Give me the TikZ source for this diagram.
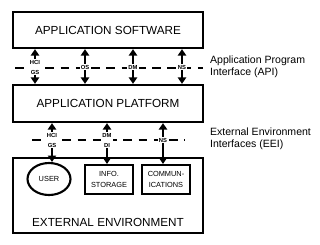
\documentclass[tikz,border=0pt]{standalone}
\usepackage{fontspec}
\setmainfont{Liberation Sans}
\usetikzlibrary{arrows.meta,shapes.geometric,positioning}

\begin{document}
\begin{tikzpicture}[x=0.03cm,y=-0.03cm,
  layer/.style={draw,line width=1.9pt,minimum width=5.7cm,font=\fontsize{10}{12}\selectfont},
  inner/.style={draw,line width=1.8pt,minimum width=1.44cm,minimum height=0.87cm,align=center,font=\fontsize{6.3}{9.3}\selectfont},
  iface/.style={fill=white,inner sep=1pt,align=center,font=\fontsize{5}{8.5}\selectfont\bfseries},
  note/.style={anchor=west,align=left,font=\fontsize{9}{10.5}\selectfont},
  divider/.style={line width=1.7pt,dash pattern=on 7.5pt off 5.5pt},
  arrowto/.style={line width=1.8pt,-{Triangle[width=7pt,length=5.5pt]}}]
\useasboundingbox (0,0) rectangle (320,244);
% layers
\node[layer,minimum height=1.08cm] (sw) at (108,30) {APPLICATION SOFTWARE};
\node[layer,minimum height=1.11cm] (ap) at (108,103.5) {APPLICATION PLATFORM};
\node[layer,minimum height=2.25cm] (ee) at (108,195.5) {};
\node[font=\fontsize{10}{12}\selectfont] (eetext) at (108,222) {EXTERNAL ENVIRONMENT};
% external entities
\node[draw,ellipse,line width=1.8pt,minimum width=1.29cm,minimum height=0.96cm,font=\fontsize{6.3}{9.3}\selectfont] (user) at (49,179) {USER};
\node[inner] (store) at (109,179.5) {INFO.\\STORAGE};
\node[inner] (comm) at (166,179.5) {COMMUN-\\ICATIONS};
% interface lines
\coordinate (apil) at (15,68);
\coordinate (apir) at (203,68);
\coordinate (eeil) at (32,140);
\coordinate (eeir) at (185,140);
\draw[divider] (apil) -- (apir);
\draw[divider] (eeil) -- (eeir);
\node[note] (api) at (206,67) {Application Program\\Interface (API)};
\node[note] (eei) at (206,139) {External Environment\\Interfaces (EEI)};
% API services
\node[iface] (hci1) at (35,67) {HCI\\GS};
\node[iface] (os) at (85,67) {OS};
\node[iface] (dm1) at (133,67) {DM};
\node[iface] (ns1) at (182,67) {NS};
\foreach \s in {hci1,os,dm1,ns1}{
  \draw[arrowto] (\s.north) -- (\s.north |- sw.south);
  \draw[arrowto] (\s.south) -- (\s.south |- ap.north);
}
% EEI services
\node[iface] (hci2) at (52,140) {HCI\\GS};
\node[iface] (dm2) at (107,140) {DM\\DI};
\node[iface] (ns2) at (163,140) {NS};
\foreach \s/\t in {hci2/user,dm2/store,ns2/comm}{
  \draw[arrowto] (\s.north) -- (\s.north |- ap.south);
  \draw[arrowto] (\s.south) -- (\s.south |- \t.north);
}
\end{tikzpicture}
\end{document}
